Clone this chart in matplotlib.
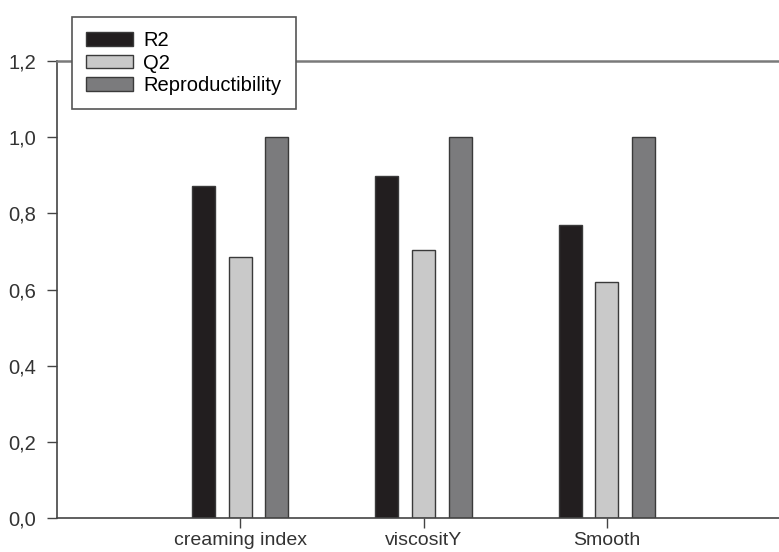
import matplotlib
matplotlib.use("Agg")
import matplotlib.pyplot as plt
import numpy as np

plt.rcParams['font.family'] = ['Liberation Sans', 'DejaVu Sans']

# --- datos ---
categorias = ["creaming index", "viscositY", "Smooth"]
r2 = [0.872, 0.898, 0.769]
q2 = [0.686, 0.704, 0.620]
reproducibilidad = [1.0, 1.0, 1.0]
yticks = [0.0, 0.2, 0.4, 0.6, 0.8, 1.0, 1.2]
yticklabels = ["0,0", "0,2", "0,4", "0,6", "0,8", "1,0", "1,2"]

W, H = 779, 552
fs = 14.5
fig = plt.figure(figsize=(W / 100, H / 100), dpi=100)
# el eje derecho queda fuera de la imagen, como en el original
ax = fig.add_axes([57 / W, (H - 518) / H, (790 - 57) / W, (518 - 61) / H])

x = np.arange(1, len(categorias) + 1)
ancho = 0.125
paso = 0.2
borde = '#3a3a3a'
ax.bar(x - paso, r2, ancho, color='#221e1f', edgecolor=borde, linewidth=1, label='R2')
ax.bar(x, q2, ancho, color='#c9c9c9', edgecolor=borde, linewidth=1, label='Q2')
ax.bar(x + paso, reproducibilidad, ancho, color='#7b7b7d', edgecolor=borde,
       linewidth=1, label='Reproductibility')

ax.set_xlim(0, 4)
ax.set_ylim(0, 1.2)
ax.set_xticks(x)
ax.set_xticklabels(categorias, fontsize=14, color='#333333')
ax.set_yticks(yticks)
ax.set_yticklabels(yticklabels, fontsize=fs, color='#333333')
ax.tick_params(direction='out', length=7, width=1, color='#444444')
ax.tick_params(axis='y', pad=8)
ax.tick_params(axis='x', pad=3)

for s in ['left', 'bottom']:
    ax.spines[s].set_color('#444444')
    ax.spines[s].set_linewidth(1.2)
ax.spines['top'].set_color('#7a7a7a')
ax.spines['top'].set_linewidth(1.8)
ax.spines['right'].set_visible(False)

leg = fig.legend(loc='upper left', bbox_to_anchor=(72 / W, 1 - 17 / H),
                 fontsize=fs, frameon=True, fancybox=False, edgecolor='#555555',
                 handlelength=2.35, handleheight=0.65, labelspacing=0.17,
                 borderpad=0.7, handletextpad=0.5, borderaxespad=0)
leg.get_frame().set_linewidth(1.2)
leg.get_frame().set_alpha(1)

fig.savefig("out.png", dpi=100, facecolor='white')
